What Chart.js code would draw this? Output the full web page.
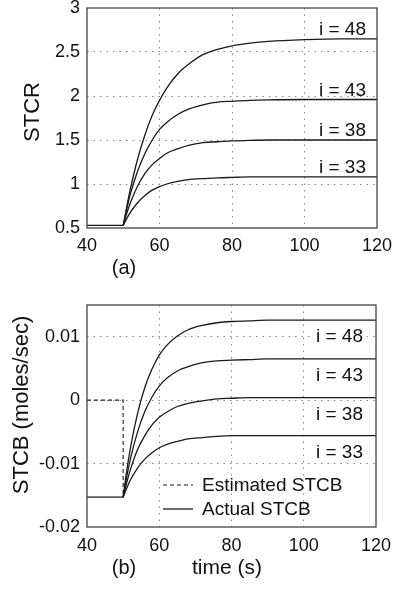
<!DOCTYPE html>
<html>
<head>
<meta charset="utf-8">
<script src="https://cdn.jsdelivr.net/npm/chart.js@4.4.1/dist/chart.umd.min.js"></script>
<style>
    html, body { margin: 0; padding: 0; background: #fff; overflow: hidden; }
    #grapheA { position: absolute; left: 0; top: 0; }
    #grapheB { position: absolute; left: 0; top: 290px; }
</style>
</head>
<body>
<canvas id="grapheA" width="393" height="290"></canvas>
<canvas id="grapheB" width="393" height="299"></canvas>
<script>
// DONNEES
const tempsAvant = [40, 50];
const temps = [50, 51, 52, 54, 56, 58, 60, 62, 65, 68, 72, 76, 80, 85, 90, 100, 110, 120];
const etiquettesI = ['i = 48', 'i = 43', 'i = 38', 'i = 33'];

// (a) STCR
const stcrAvant = [0.53, 0.53];
const stcr48 = [0.53, 0.75, 0.95, 1.29, 1.56, 1.78, 1.95, 2.09, 2.25, 2.36, 2.47, 2.53, 2.57, 2.60, 2.62, 2.64, 2.65, 2.65];
const stcr43 = [0.53, 0.72, 0.89, 1.15, 1.35, 1.50, 1.62, 1.70, 1.79, 1.85, 1.90, 1.93, 1.94, 1.95, 1.955, 1.96, 1.96, 1.96];
const stcr38 = [0.53, 0.67, 0.79, 0.98, 1.12, 1.22, 1.29, 1.35, 1.40, 1.44, 1.47, 1.48, 1.49, 1.495, 1.50, 1.50, 1.50, 1.50];
const stcr33 = [0.53, 0.61, 0.68, 0.79, 0.87, 0.93, 0.97, 1.00, 1.03, 1.05, 1.06, 1.07, 1.075, 1.08, 1.08, 1.08, 1.08, 1.08];

// (b) STCB
const stcbAvant = [-0.0153, -0.0153];
const stcb48 = [-0.0153, -0.0111, -0.0076, -0.0021, 0.0020, 0.0049, 0.0071, 0.0086, 0.0101, 0.0111, 0.0118, 0.0122, 0.0124, 0.0125, 0.0126, 0.0126, 0.0126, 0.0126];
const stcb43 = [-0.0153, -0.0121, -0.0093, -0.0050, -0.0018, 0.0005, 0.0022, 0.0034, 0.0046, 0.0053, 0.0059, 0.0062, 0.0063, 0.0064, 0.0065, 0.0065, 0.0065, 0.0065];
const stcb38 = [-0.0153, -0.0130, -0.0110, -0.0078, -0.0056, -0.0039, -0.0027, -0.0019, -0.0010, -0.0005, -0.0001, 0.0002, 0.0003, 0.0004, 0.0004, 0.0004, 0.0004, 0.0004];
const stcb33 = [-0.0153, -0.0139, -0.0126, -0.0107, -0.0093, -0.0083, -0.0075, -0.0070, -0.0065, -0.0061, -0.0059, -0.0057, -0.0056, -0.0056, -0.0056, -0.0056, -0.0056, -0.0056];
const tempsEstime = [40, 50, 50];
const stcbEstime = [0, 0, -0.0153];

// GRADUATIONS
const ticksX = [40, 60, 80, 100, 120];
const ticksA = [0.5, 1, 1.5, 2, 2.5, 3];
const labelsA = ['0.5', '1', '1.5', '2', '2.5', '3'];
const ticksB = [-0.02, -0.01, 0, 0.01];
const labelsB = ['-0.02', '-0.01', '0', '0.01'];

const police = '"Liberation Sans", Arial, Helvetica, sans-serif';
const noir = '#1a1a1a';

function points(xs, ys) {
    return xs.map((x, k) => ({ x: x, y: ys[k] }));
}

function courbe(xs, ys) {
    return {
        data: points(xs, ys),
        borderColor: noir,
        borderWidth: 1.3,
        pointRadius: 0,
        cubicInterpolationMode: 'monotone',
        fill: false
    };
}

function echelleX(padding) {
    return {
        type: 'linear',
        min: 40,
        max: 120,
        afterBuildTicks: scale => { scale.ticks = ticksX.map(v => ({ value: v })); },
        afterFit: scale => {
            scale.height = 62;
            scale.paddingLeft = 0;
            scale.paddingRight = 0;
        },
        ticks: { color: '#111', padding: padding, font: { family: police, size: 18, lineHeight: 1 } },
        grid: {
            drawTicks: false,
            color: ctx => (ctx.tick && (ctx.tick.value === 40 || ctx.tick.value === 120)) ? 'rgba(0,0,0,0)' : '#888',
            lineWidth: 1
        },
        border: { display: false, dash: [1.5, 5] }
    };
}

function echelleY(min, max, valeurs, textes) {
    return {
        min: min,
        max: max,
        afterBuildTicks: scale => { scale.ticks = valeurs.map(v => ({ value: v })); },
        afterFit: scale => {
            scale.width = 87;
            scale.paddingTop = 0;
            scale.paddingBottom = 0;
        },
        ticks: {
            color: '#111',
            padding: 7,
            font: { family: police, size: 18, lineHeight: 1 },
            callback: v => {
                const k = valeurs.findIndex(t => Math.abs(t - v) < 1e-9);
                return k >= 0 ? textes[k] : '';
            }
        },
        grid: {
            drawTicks: false,
            color: ctx => (ctx.tick && (Math.abs(ctx.tick.value - min) < 1e-9 || Math.abs(ctx.tick.value - max) < 1e-9)) ? 'rgba(0,0,0,0)' : '#888',
            lineWidth: 1
        },
        border: { display: false, dash: [1.5, 5] }
    };
}

// CADRE AUTOUR DE LA ZONE DE TRACE
const cadre = {
    id: 'cadre',
    afterDraw(chart) {
        const ctx = chart.ctx;
        const a = chart.chartArea;
        ctx.save();
        ctx.strokeStyle = '#444';
        ctx.lineWidth = 1.3;
        ctx.strokeRect(a.left, a.top, a.right - a.left, a.bottom - a.top);
        ctx.restore();
    }
};

function texte(ctx, txt, x, y, taille, align, base, angle) {
    ctx.save();
    ctx.font = taille + 'px ' + police;
    ctx.fillStyle = '#111';
    ctx.textAlign = align;
    ctx.textBaseline = base;
    ctx.translate(x, y);
    if (angle) ctx.rotate(angle);
    ctx.fillText(txt, 0, 0);
    ctx.restore();
}

// TEXTES DU GRAPHIQUE (a)
const textesA = {
    id: 'textesA',
    afterDraw(chart) {
        const ctx = chart.ctx;
        const sx = chart.scales.x, sy = chart.scales.y;
        const finales = [stcr48, stcr43, stcr38, stcr33].map(s => s[s.length - 1]);
        finales.forEach((v, k) => {
            texte(ctx, etiquettesI[k], sx.getPixelForValue(120) - 11, sy.getPixelForValue(v) - 4, 19, 'right', 'alphabetic');
        });
        texte(ctx, 'STCR', 33, 112, 22, 'center', 'middle', -Math.PI / 2);
        texte(ctx, '(a)', 124, 268, 20, 'center', 'middle');
    }
};

// TEXTES ET LEGENDE DU GRAPHIQUE (b)
const textesB = {
    id: 'textesB',
    afterDraw(chart) {
        const ctx = chart.ctx;
        const sx = chart.scales.x, sy = chart.scales.y;
        const a = chart.chartArea;
        const finales = [stcb48, stcb43, stcb38, stcb33].map(s => s[s.length - 1]);
        ctx.save();
        ctx.font = '19px ' + police;
        finales.forEach((v, k) => {
            const x = sx.getPixelForValue(120) - 13;
            const y = sy.getPixelForValue(v) + 22;
            const w = ctx.measureText(etiquettesI[k]).width;
            ctx.fillStyle = '#fff';
            ctx.fillRect(x - w - 3, y - 16, w + 6, 19);
        });
        ctx.restore();
        finales.forEach((v, k) => {
            texte(ctx, etiquettesI[k], sx.getPixelForValue(120) - 13, sy.getPixelForValue(v) + 22, 19, 'right', 'alphabetic');
        });

        // legende
        ctx.save();
        ctx.strokeStyle = noir;
        ctx.lineWidth = 1.2;
        ctx.setLineDash([4, 3]);
        ctx.beginPath();
        ctx.moveTo(a.left + 76, a.top + 180);
        ctx.lineTo(a.left + 106, a.top + 180);
        ctx.stroke();
        ctx.setLineDash([]);
        ctx.lineWidth = 1.3;
        ctx.beginPath();
        ctx.moveTo(a.left + 76, a.top + 204);
        ctx.lineTo(a.left + 106, a.top + 204);
        ctx.stroke();
        ctx.restore();
        texte(ctx, 'Estimated STCB', a.left + 115, a.top + 181, 19, 'left', 'middle');
        texte(ctx, 'Actual STCB', a.left + 115, a.top + 205, 19, 'left', 'middle');

        texte(ctx, 'STCB (moles/sec)', 22, 115, 22, 'center', 'middle', -Math.PI / 2);
        texte(ctx, '(b)', 124, 278, 20, 'center', 'middle');
        texte(ctx, 'time (s)', 227, 278, 21, 'center', 'middle');
    }
};

const optionsCommunes = {
    responsive: false,
    animation: false,
    devicePixelRatio: 1,
    plugins: { legend: { display: false }, tooltip: { enabled: false } }
};

new Chart(document.getElementById('grapheA'), {
    type: 'line',
    data: {
        datasets: [
            courbe(tempsAvant, stcrAvant),
            courbe(temps, stcr48),
            courbe(temps, stcr43),
            courbe(temps, stcr38),
            courbe(temps, stcr33)
        ]
    },
    options: Object.assign({}, optionsCommunes, {
        layout: { autoPadding: false, padding: { left: 0, right: 16, top: 8, bottom: 0 } },
        scales: {
            x: echelleX(9),
            y: echelleY(0.5, 3, ticksA, labelsA)
        }
    }),
    plugins: [cadre, textesA]
});

const estime = courbe(tempsEstime, stcbEstime);
estime.cubicInterpolationMode = 'default';
estime.tension = 0;
estime.borderWidth = 1.1;
estime.borderDash = [4, 3];

new Chart(document.getElementById('grapheB'), {
    type: 'line',
    data: {
        datasets: [
            courbe(tempsAvant, stcbAvant),
            courbe(temps, stcb48),
            courbe(temps, stcb43),
            courbe(temps, stcb38),
            courbe(temps, stcb33),
            estime
        ]
    },
    options: Object.assign({}, optionsCommunes, {
        layout: { autoPadding: false, padding: { left: 0, right: 17, top: 15, bottom: 0 } },
        scales: {
            x: echelleX(10),
            y: echelleY(-0.02, 0.015, ticksB, labelsB)
        }
    }),
    plugins: [cadre, textesB]
});
</script>
</body>
</html>
